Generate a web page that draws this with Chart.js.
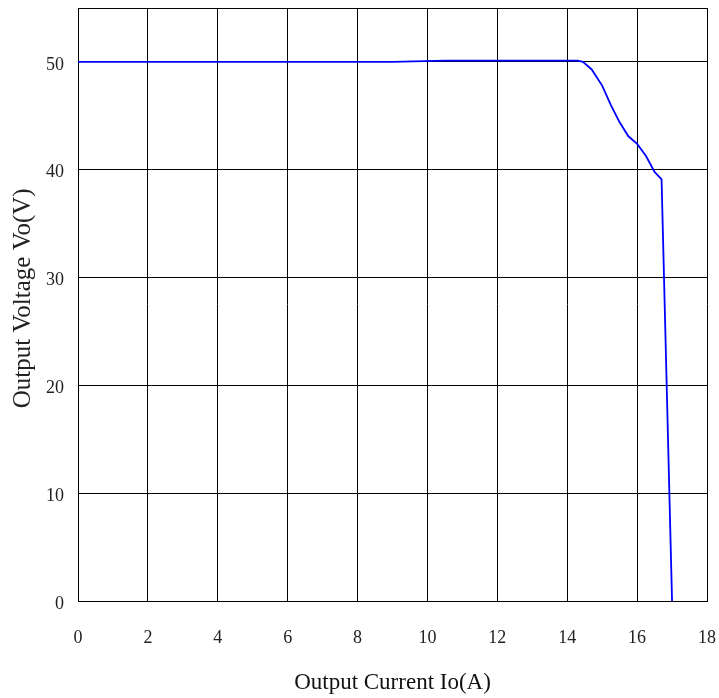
<!DOCTYPE html>
<html>
<head>
<meta charset="utf-8">
<script src="https://cdn.jsdelivr.net/npm/chart.js@4/dist/chart.umd.min.js"></script>
<style>
  body { margin: 0; background: #fff; }
  #wrap { width: 719px; height: 698px; position: relative; }
</style>
</head>
<body>
<div id="wrap"><canvas id="chart"></canvas></div>
<script>
// output current (A) and output voltage (V)
const currentIo = [0, 9.0, 10.5, 14.3, 14.45, 14.7, 15.0, 15.25, 15.5, 15.75, 16.0, 16.25, 16.5, 16.7, 17.0];
const voltageVo = [50.0, 50.0, 50.12, 50.12, 50.0, 49.3, 47.8, 46.0, 44.4, 43.1, 42.4, 41.3, 39.8, 39.1, 0];

const xTicks = [0, 2, 4, 6, 8, 10, 12, 14, 16, 18];
const yTicks = [0, 10, 20, 30, 40, 50, 55];

const xTitle = "Output Current Io(A)";
const yTitle = "  Output Voltage Vo(V)";   // leading spaces nudge it up a bit

const serif = "'Liberation Serif', 'Times New Roman', serif";

let points = [];
currentIo.forEach((x, i) => {
	points.push({x: x, y: voltageVo[i]});
});

new Chart(document.getElementById("chart"), {
	type: 'scatter',
	data: {
		datasets: [{
			data: points,
			showLine: true,
			borderColor: '#0000ff',
			borderWidth: 1.8,
			pointRadius: 0,
			tension: 0
		}]
	},
	options: {
		responsive: true,
		maintainAspectRatio: false,
		animation: false,
		layout: { padding: { top: 8, right: 12, left: 0, bottom: 0 } },
		plugins: {
			legend: { display: false },
			tooltip: { enabled: false }
		},
		scales: {
			x: {
				type: 'linear',
				min: 0,
				max: 18,
				afterBuildTicks: (s) => { s.ticks = xTicks.map(v => ({value: v})); },
				afterFit: (s) => {
					// fixed height, and no extra room for end labels
					s.height = 97;
					s.paddingLeft = 0;
					s.paddingRight = 0;
				},
				grid: { color: '#000', lineWidth: 1, drawTicks: false },
				border: { color: '#000', width: 1 },
				ticks: {
					padding: 26,
					color: '#222',
					font: { family: serif, size: 18 }
				},
				title: {
					display: true,
					text: xTitle,
					color: '#111',
					font: { family: serif, size: 23 },
					padding: { top: 0, bottom: 1 }
				}
			},
			y: {
				min: 0,
				max: 55,
				afterBuildTicks: (s) => { s.ticks = yTicks.map(v => ({value: v})); },
				afterFit: (s) => {
					s.width = 78;
					s.paddingTop = 0;
					s.paddingBottom = 0;
				},
				grid: { color: '#000', lineWidth: 1, drawTicks: false },
				border: { color: '#000', width: 1 },
				ticks: {
					padding: 14,
					labelOffset: 3,
					color: '#222',
					font: { family: serif, size: 18 },
					callback: (v) => (v % 10 === 0 ? v : '')
				},
				title: {
					display: true,
					text: yTitle,
					color: '#222',
					font: { family: serif, size: 25 },
					padding: { top: 8, bottom: 0 }
				}
			}
		}
	}
});
</script>
</body>
</html>
